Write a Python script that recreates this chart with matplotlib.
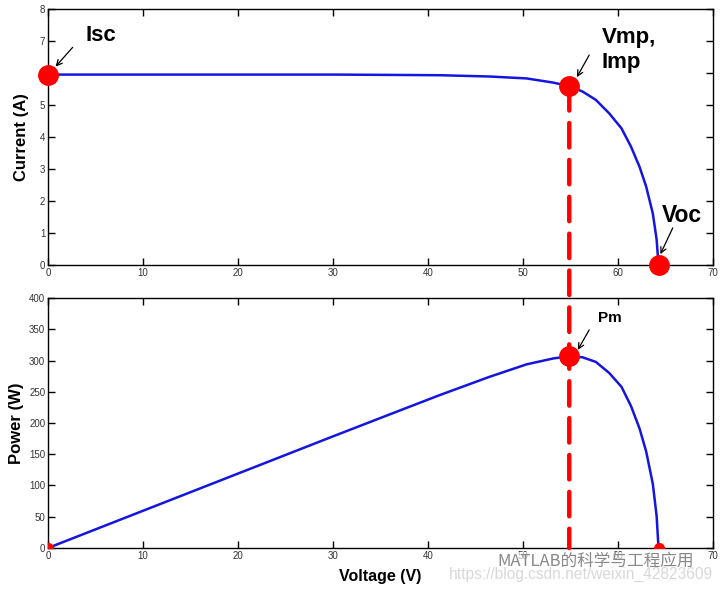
import matplotlib
matplotlib.use("Agg")
import matplotlib.pyplot as plt
import numpy as np
from matplotlib.patches import ConnectionPatch

plt.rcParams["font.family"] = ["Liberation Sans", "DejaVu Sans"]

# I-V curve
voltage = [0, 10, 20, 30, 36, 41.3, 46.5, 50.4, 53.2, 54.9, 56.3, 57.7, 59.1,
           60.4, 61.4, 62.3, 63.0, 63.7, 64.1, 64.3]
current = [5.95, 5.95, 5.95, 5.95, 5.94, 5.93, 5.89, 5.83, 5.70, 5.59, 5.42, 5.16, 4.74,
           4.27, 3.70, 3.07, 2.45, 1.61, 0.80, 0.0]
power = [v * i for v, i in zip(voltage, current)]

isc = 5.95
vmp, imp = 54.9, 5.59
voc = 64.3
pm = vmp * imp

xticks = np.arange(0, 71, 10)
fig = plt.figure(figsize=(7.28, 5.90), dpi=100)
ax1 = fig.add_axes([0.0659, 0.5508, 0.913, 0.434])
ax2 = fig.add_axes([0.0659, 0.0712, 0.913, 0.4237])

blue = "#1515e0"
red = "#ff0000"

ax1.plot(voltage, current, color=blue, lw=1.8, zorder=3)
ax2.plot(voltage, power, color=blue, lw=1.8, zorder=3)

for ax, ymax, ystep in [(ax1, 8, 1), (ax2, 400, 50)]:
    ax.set_xlim(0, 70)
    ax.set_ylim(0, ymax)
    ax.set_xticks(xticks)
    ax.set_yticks(np.arange(0, ymax + 1, ystep))
    ax.tick_params(direction="in", length=5, width=1, top=True, right=True,
                   labelsize=7, colors="black", labelcolor="#333333", pad=2)
    for s in ax.spines.values():
        s.set_linewidth(1.0)

ax1.set_ylabel("Current (A)", fontsize=12, fontweight="bold", labelpad=8)
ax2.set_ylabel("Power (W)", fontsize=12, fontweight="bold", labelpad=4)
ax2.set_xlabel("Voltage (V)", fontsize=11.5, fontweight="bold", labelpad=6)

# dashed line through the maximum power point
con = ConnectionPatch(xyA=(vmp, imp), coordsA=ax1.transData,
                      xyB=(vmp, 0), coordsB=ax2.transData,
                      color=red, lw=3.2, linestyle=(0, (5.5, 2.8)), zorder=4)
fig.add_artist(con)

# markers
ax1.plot([0, vmp, voc], [isc, imp, 0], "o", color=red, ms=14, clip_on=False, zorder=5)
ax2.plot([vmp], [pm], "o", color=red, ms=14, clip_on=False, zorder=5)
ax2.plot([0, voc], [0, 0], "o", color=red, ms=7, zorder=5)

arrow = dict(arrowstyle="->", color="black", lw=0.9, shrinkA=0, shrinkB=0)
ax1.text(4.0, 7.16, "Isc", fontsize=16, fontweight="bold", va="center", ha="left")
ax1.annotate("", xy=(0.8, 6.2), xytext=(2.6, 6.8), arrowprops=arrow)
ax1.text(58.3, 6.72, "Vmp,\nImp", fontsize=16, fontweight="bold", va="center",
         ha="left", linespacing=1.25)
ax1.annotate("", xy=(55.7, 5.87), xytext=(57.0, 6.56), arrowprops=arrow)
ax1.text(64.7, 1.56, "Voc", fontsize=16.5, fontweight="bold", va="center", ha="left")
ax1.annotate("", xy=(64.5, 0.34), xytext=(65.8, 1.16), arrowprops=arrow)
ax2.text(57.9, 368, "Pm", fontsize=11, fontweight="bold", va="center", ha="left")
ax2.annotate("", xy=(55.8, 317), xytext=(57.0, 349), arrowprops=arrow)

# watermark
fig.text(0.683, 0.049, "MATLAB的科学与工程应用", fontsize=12, color="#888888",
         family=["Noto Sans CJK SC", "DejaVu Sans"], va="center", ha="left", zorder=6,
         bbox=dict(facecolor="white", edgecolor="none", alpha=0.6, pad=0.5))
fig.text(0.617, 0.026, "https://blog.csdn.net/weixin_42823609", fontsize=11.2,
         color="#d8d8d8", va="center", ha="left", zorder=6)

fig.savefig("out.png", dpi=100)
